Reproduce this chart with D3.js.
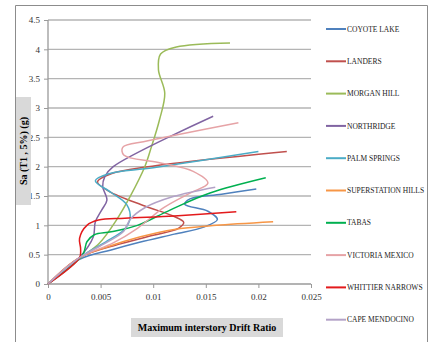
<!DOCTYPE html>
<html>
<head>
<meta charset="utf-8">
<script src="https://cdn.jsdelivr.net/npm/d3@7"></script>
<style>
  body { margin: 0; background: #fff; }
  svg { display: block; font-family: "Liberation Serif", "DejaVu Serif", serif; }
</style>
</head>
<body>
<svg id="chart" width="428" height="342"></svg>
<script>
// axis ticks
var driftTicks = [0, 0.005, 0.01, 0.015, 0.02, 0.025];
var saTicks = [0, 0.5, 1, 1.5, 2, 2.5, 3, 3.5, 4, 4.5];

var names = ["COYOTE LAKE", "LANDERS", "MORGAN HILL", "NORTHRIDGE", "PALM SPRINGS",
  "SUPERSTATION HILLS", "TABAS", "VICTORIA MEXICO", "WHITTIER NARROWS", "CAPE MENDOCINO"];

// [drift ratio, Sa], in order of increasing Sa
var coyoteLake = [[0,0],[0.003,0.42],[0.006,0.58],[0.0087,0.71],[0.012,0.85],[0.0148,0.97],[0.0161,1.1],[0.0152,1.24],[0.013,1.36],[0.0135,1.45],[0.0165,1.53],[0.0198,1.62]];
var landers = [[0,0],[0.003,0.45],[0.0068,0.68],[0.01,0.83],[0.0124,0.95],[0.0129,1.05],[0.012,1.15],[0.0092,1.33],[0.0058,1.58],[0.0047,1.74],[0.006,1.88],[0.0095,2.0],[0.0227,2.26]];
var morganHill = [[0,0],[0.0032,0.46],[0.0049,0.7],[0.0065,1.09],[0.0078,1.49],[0.0092,2.0],[0.0098,2.32],[0.0106,2.8],[0.0111,3.25],[0.0105,3.65],[0.0107,3.92],[0.0122,4.04],[0.0173,4.11]];
var northridge = [[0,0],[0.003,0.45],[0.0043,0.8],[0.0045,1.06],[0.0051,1.26],[0.0056,1.43],[0.0052,1.66],[0.0054,1.83],[0.0062,2.0],[0.0157,2.86]];
var palmSprings = [[0,0],[0.003,0.45],[0.0055,0.72],[0.0072,0.92],[0.0078,1.12],[0.0075,1.35],[0.006,1.56],[0.0045,1.76],[0.0058,1.88],[0.01,1.98],[0.02,2.26]];
var superstationHills = [[0,0],[0.003,0.45],[0.0056,0.63],[0.0087,0.8],[0.012,0.93],[0.016,1.0],[0.0214,1.06]];
var tabas = [[0,0],[0.0033,0.5],[0.0037,0.72],[0.0044,0.84],[0.006,0.89],[0.0085,1.0],[0.0116,1.26],[0.0154,1.55],[0.0207,1.81]];
var victoriaMexico = [[0,0],[0.003,0.45],[0.0062,0.7],[0.0085,0.95],[0.011,1.3],[0.0135,1.55],[0.0152,1.72],[0.0138,1.92],[0.0105,2.07],[0.0072,2.2],[0.0071,2.33],[0.0095,2.44],[0.0181,2.75]];
var whittierNarrows = [[0,0],[0.003,0.45],[0.0031,0.6],[0.003,0.78],[0.0037,1.0],[0.0048,1.09],[0.0073,1.12],[0.012,1.16],[0.0179,1.23]];
var capeMendocino = [[0,0],[0.003,0.45],[0.0055,0.7],[0.0072,0.9],[0.0078,1.1],[0.0092,1.3],[0.0119,1.49],[0.0159,1.65]];

var series = [coyoteLake, landers, morganHill, northridge, palmSprings,
  superstationHills, tabas, victoriaMexico, whittierNarrows, capeMendocino];
var colors = ["#4f81bd", "#c0504d", "#9bbb59", "#8064a2", "#4bacc6",
  "#f79646", "#00b050", "#e6a3a6", "#e31a1c", "#b3a2c7"];

var svg = d3.select("#chart");

// outer frame
svg.append("path")
  .attr("d", "M15.5,342V5.5H427.5V342")
  .attr("fill", "none")
  .attr("stroke", "#8c8c8c")
  .attr("stroke-width", 1);

const x = d3.scaleLinear().domain([0, 0.025]).range([48, 311]);
const y = d3.scaleLinear().domain([0, 4.5]).range([284, 20]);

// gridlines
svg.append("g")
  .selectAll("line")
  .data(saTicks.slice(1))
  .enter()
  .append("line")
    .attr("x1", x(0)).attr("x2", x(0.025))
    .attr("y1", d => y(d)).attr("y2", d => y(d))
    .attr("stroke", "#b4b4b4")
    .attr("stroke-width", 1.3);

var xAxis = svg.append("g")
  .attr("transform", "translate(0," + y(0) + ")")
  .call(d3.axisBottom(x).tickValues(driftTicks).tickSize(4).tickPadding(6)
    .tickFormat(d => d === 0 ? "0" : String(+d.toFixed(3))));

var yAxis = svg.append("g")
  .attr("transform", "translate(" + x(0) + ",0)")
  .call(d3.axisLeft(y).tickValues(saTicks).tickSize(4).tickPadding(4)
    .tickFormat(d => String(d)));

[xAxis, yAxis].forEach(function(g){
  g.select(".domain").attr("stroke", "#9a9a9a").attr("stroke-width", 1.3);
  g.selectAll(".tick line").attr("stroke", "#9a9a9a");
  g.selectAll(".tick text")
    .attr("fill", "#333")
    .style("font-family", "'Liberation Serif', serif")
    .style("font-size", "9px");
});
yAxis.select(".domain").attr("d", "M0," + y(4.5) + "V" + y(0));
xAxis.select(".domain").attr("d", "M" + x(0) + ",0H" + x(0.025));

// series lines
var line = d3.line()
  .x(d => x(d[0]))
  .y(d => y(d[1]))
  .curve(d3.curveCatmullRom.alpha(0.5));

svg.append("g")
  .selectAll("path")
  .data(series)
  .enter()
  .append("path")
    .attr("d", line)
    .attr("fill", "none")
    .attr("stroke", (d, i) => colors[i])
    .attr("stroke-width", 1.5)
    .attr("stroke-linejoin", "round");

// legend
var legend = svg.append("g")
  .selectAll("g")
  .data(names)
  .enter()
  .append("g")
    .attr("transform", (d, i) => "translate(326," + (29 + i * 32.3) + ")");

legend.append("line")
  .attr("x1", 0).attr("x2", 20)
  .attr("stroke", (d, i) => colors[i])
  .attr("stroke-width", 2);

legend.append("text")
  .attr("x", 21)
  .attr("dy", "0.35em")
  .style("font-size", "7.5px")
  .attr("fill", "#222")
  .text(d => d);

// axis titles with grey boxes
svg.append("rect")
  .attr("x", 131).attr("y", 318).attr("width", 152).attr("height", 19)
  .attr("fill", "#d9d9d9");
svg.append("text")
  .attr("x", 207).attr("y", 331)
  .attr("text-anchor", "middle")
  .style("font-size", "10px")
  .style("font-weight", "bold")
  .text("Maximum interstory Drift Ratio");

svg.append("rect")
  .attr("x", 16).attr("y", 97).attr("width", 15).attr("height", 108)
  .attr("fill", "#d9d9d9");
svg.append("text")
  .attr("transform", "translate(27,151) rotate(-90)")
  .attr("text-anchor", "middle")
  .style("font-size", "10px")
  .style("font-weight", "bold")
  .text("Sa (T1 , 5%) (g)");
</script>
</body>
</html>
